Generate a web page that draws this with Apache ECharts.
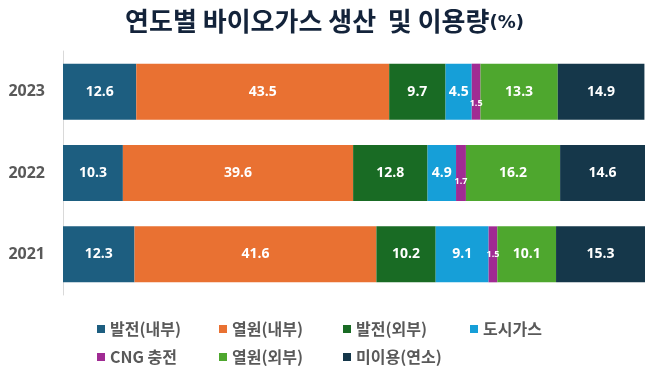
<!DOCTYPE html>
<html><head><meta charset="utf-8">
<script src="https://cdn.jsdelivr.net/npm/echarts@6/dist/echarts.min.js"></script>
<style>html,body{margin:0;padding:0;background:#fff}#c{width:649px;height:372px}</style>
</head><body><div id="c"></div>
<script>
const years = ['2021', '2022', '2023'];
const seriesNames = ['발전(내부)', '열원(내부)', '발전(외부)', '도시가스', 'CNG 충전', '열원(외부)', '미이용(연소)'];
const power_in   = [12.3, 10.3, 12.6];
const heat_in    = [41.6, 39.6, 43.5];
const power_out  = [10.2, 12.8, 9.7];
const city_gas   = [9.1, 4.9, 4.5];
const cng        = [1.5, 1.7, 1.5];
const heat_out   = [10.1, 16.2, 13.3];
const unused     = [15.3, 14.6, 14.9];
const values = [power_in, heat_in, power_out, city_gas, cng, heat_out, unused];
const colors = ['#1D5E80', '#E97132', '#196B24', '#169FD8', '#A02B93', '#4EA72E', '#15374A'];

const chart = echarts.init(document.getElementById('c'));
const series = seriesNames.map((name, i) => ({
  name, type: 'bar', stack: 'total', barWidth: 56,
  itemStyle: { color: colors[i] },
  label: {
    show: true, position: 'inside', color: '#fff',
    fontFamily: 'Open Sans', fontWeight: 'bold', fontSize: i === 4 ? 9 : 14
  },
  data: values[i].map((v, j) => {
    const d = { value: v };
    if (i === 4) {
      const offs = [0, 8, 12];
      d.label = { offset: [0, offs[j]] };
    }
    return d;
  })
}));

const legendBase = {
  orient: 'vertical', icon: 'rect', itemWidth: 8, itemHeight: 8, itemGap: 12,
  top: 316,
  textStyle: { fontFamily: 'Noto Sans CJK KR', fontWeight: 'bold', fontSize: 16, color: '#595959' }
};
chart.setOption({
  animation: false,
  title: {
    text: '연도별 바이오가스 생산  및 이용량{s|(%)}',
    left: 'center', top: 3,
    textStyle: {
      fontFamily: 'Noto Sans CJK KR', fontWeight: 'bold', fontSize: 26, color: '#13233A',
      rich: { s: { fontFamily: 'DejaVu Sans', fontWeight: 'bold', fontSize: 18, color: '#13233A', padding: [4, 0, 0, 0] } }
    }
  },
  legend: [
    Object.assign({ left: 92, data: ['발전(내부)', 'CNG 충전'] }, legendBase),
    Object.assign({ left: 214, data: ['열원(내부)', '열원(외부)'] }, legendBase),
    Object.assign({ left: 338, data: ['발전(외부)', '미이용(연소)'] }, legendBase),
    Object.assign({ left: 465, data: ['도시가스'] }, legendBase)
  ],
  grid: { left: 63, right: 4, top: 51, height: 244 },
  xAxis: { type: 'value', min: 0, max: 100.1, show: false },
  yAxis: {
    type: 'category', data: years,
    axisLine: { show: true, lineStyle: { color: '#D9D9D9', width: 1 } },
    axisTick: { show: false },
    axisLabel: { fontFamily: 'Open Sans', fontWeight: 'bold', fontSize: 16, color: '#595959', margin: 18 }
  },
  series
});
</script></body></html>
